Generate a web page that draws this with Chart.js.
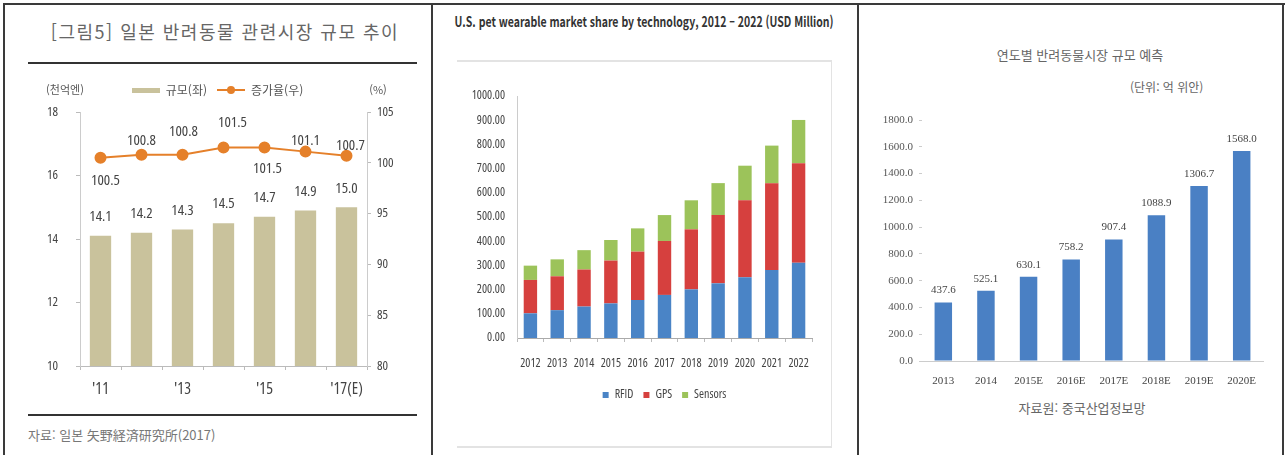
<!DOCTYPE html>
<html lang="ko">
<head>
<meta charset="utf-8">
<title>반려동물 시장 규모</title>
<script src="https://cdn.jsdelivr.net/npm/chart.js@4.4.1/dist/chart.umd.min.js"></script>
<style>
  html, body { margin: 0; padding: 0; background: #fff; }
  body { width: 1286px; height: 455px; position: relative; overflow: hidden; font-family: 'Noto Sans CJK KR', sans-serif; }
  .edge { position: absolute; background: #3a3a3a; }
  .rule { position: absolute; height: 2px; background: #333; }
  .soft { position: absolute; background: #e3e3e3; }
  .txt { position: absolute; white-space: nowrap; }
  .box { position: absolute; }
</style>
</head>
<body>
  <!-- panel frames -->
  <div class="edge" style="left:3px; top:3px; width:1282px; height:2px;"></div>
  <div class="edge" style="left:3px; top:3px; width:2px; height:452px;"></div>
  <div class="edge" style="left:431px; top:3px; width:2px; height:452px;"></div>
  <div class="edge" style="left:857px; top:3px; width:2px; height:452px;"></div>
  <div class="edge" style="left:1282px; top:3px; width:2px; height:452px;"></div>

  <!-- left panel -->
  <div class="txt" style="left:28px; width:394px; top:20px; line-height:22px; text-align:center; font-size:18px; letter-spacing:1.5px; color:#666;">[그림5] 일본 반려동물 관련시장 규모 추이</div>
  <div class="rule" style="left:28px; top:62px; width:389px;"></div>
  <div class="box" style="left:20px; top:70px; width:395px; height:330px;"><canvas id="japanChart"></canvas></div>
  <div class="rule" style="left:28px; top:414px; width:389px;"></div>
  <div class="txt" style="left:28px; top:427px; line-height:16px; font-size:13px; color:#777;">자료: 일본 矢野経済研究所(2017)</div>

  <!-- middle panel -->
  <div class="txt" style="left:344px; width:600px; top:12px; line-height:18px; text-align:center; font-size:14px; font-weight:bold; color:#333; transform:scaleX(0.75); transform-origin:50% 50%;">U.S. pet wearable market share by technology, 2012 – 2022 (USD Million)</div>
  <div class="soft" style="left:457px; top:60px; width:375px; height:2px;"></div>
  <div class="soft" style="left:831px; top:60px; width:1px; height:388px;"></div>
  <div class="box" style="left:440px; top:70px; width:400px; height:341px;"><canvas id="usChart"></canvas></div>
  <div class="soft" style="left:457px; top:446px; width:375px; height:2px;"></div>

  <!-- right panel -->
  <div class="txt" style="left:980px; width:200px; top:46px; line-height:18px; text-align:center; font-size:13px; color:#666;">연도별 반려동물시장 규모 예측</div>
  <div class="txt" style="left:1130px; top:79px; line-height:16px; font-size:12px; color:#666;">(단위: 억 위안)</div>
  <div class="box" style="left:865px; top:100px; width:415px; height:291px;"><canvas id="cnChart"></canvas></div>
  <div class="txt" style="left:982px; width:200px; top:399px; line-height:18px; text-align:center; font-size:13px; color:#666;">자료원: 중국산업정보망</div>

<script>
// "condensed" goes in the weight slot so the canvas font string reads "condensed 12px ..."
const NARROW = { family: "'Open Sans', sans-serif", weight: 'condensed' };
const SERIF = "'Liberation Serif', 'DejaVu Serif', serif";

// Japan pet market: size (1000억엔, left axis) and growth index (%, right axis)
const japanYears = ["'11", "'12", "'13", "'14", "'15", "'16", "'17(E)"];
const marketSize = [14.1, 14.2, 14.3, 14.5, 14.7, 14.9, 15.0];
const growthRate = [100.5, 100.8, 100.8, 101.5, 101.5, 101.1, 100.7];

// U.S. pet wearables by technology (USD million)
const techYears = ['2012', '2013', '2014', '2015', '2016', '2017', '2018', '2019', '2020', '2021', '2022'];
const rfidValues = [102, 115, 130, 143, 157, 178, 201, 226, 251, 281, 311];
const gpsValues = [138, 140, 153, 177, 200, 223, 248, 282, 318, 358, 411];
const sensorValues = [59, 70, 80, 85, 96, 107, 120, 132, 143, 156, 179];

// China pet market forecast (억 위안)
const cnYears = ['2013', '2014', '2015E', '2016E', '2017E', '2018E', '2019E', '2020E'];
const cnMarket = [437.6, 525.1, 630.1, 758.2, 907.4, 1088.9, 1306.7, 1568.0];

const SIZE_COLOR = '#c9c29c';
const RATE_COLOR = '#e5802a';

function narrow(size) {
    return { family: NARROW.family, weight: NARROW.weight, size: size };
}

function makeSwatch(w, h, paint) {
    const c = document.createElement('canvas');
    c.width = w;
    c.height = h;
    paint(c.getContext('2d'));
    return c;
}

const barSwatch = makeSwatch(28, 5, g => {
    g.fillStyle = SIZE_COLOR;
    g.fillRect(0, 0, 28, 5);
});
const lineSwatch = makeSwatch(28, 10, g => {
    g.strokeStyle = RATE_COLOR;
    g.lineWidth = 2;
    g.beginPath();
    g.moveTo(0, 5);
    g.lineTo(28, 5);
    g.stroke();
    g.fillStyle = RATE_COLOR;
    g.beginPath();
    g.arc(14, 5, 4, 0, Math.PI * 2);
    g.fill();
});
const legendSwatches = [barSwatch, lineSwatch];

// where each growth label sits relative to its point
const rateLabelShift = [[5, 23], [0, -14], [1, -23], [9, -25], [3, 21], [0, -11], [4, -10]];

const japanLabels = {
    id: 'japanLabels',
    afterDatasetsDraw(chart) {
        const ctx = chart.ctx;
        const area = chart.chartArea;
        ctx.save();
        ctx.textAlign = 'center';
        ctx.textBaseline = 'middle';
        ctx.fillStyle = '#444';
        ctx.font = "condensed 15px 'Open Sans', sans-serif";
        chart.getDatasetMeta(0).data.forEach((bar, i) => {
            ctx.fillText(marketSize[i].toFixed(1), bar.x, bar.y - 19);
        });
        chart.getDatasetMeta(1).data.forEach((pt, i) => {
            const [dx, dy] = rateLabelShift[i];
            ctx.fillText(growthRate[i].toFixed(1), pt.x + dx, pt.y + dy);
        });
        ctx.fillStyle = '#555';
        ctx.font = "11px 'Noto Sans CJK KR'";
        ctx.fillText('(천억엔)', area.left - 15, area.top - 22);
        ctx.fillText('(%)', area.right + 11, area.top - 22);
        ctx.restore();
    }
};

new Chart(document.getElementById('japanChart'), {
    data: {
        labels: japanYears,
        datasets: [{
            type: 'bar',
            label: '규모(좌)',
            data: marketSize,
            xAxisID: 'x',
            yAxisID: 'yL',
            backgroundColor: SIZE_COLOR,
            barPercentage: 0.52,
            categoryPercentage: 1,
            order: 2
        }, {
            type: 'line',
            label: '증가율(우)',
            data: growthRate,
            xAxisID: 'x',
            yAxisID: 'yR',
            borderColor: RATE_COLOR,
            borderWidth: 2,
            pointRadius: 5,
            pointBackgroundColor: RATE_COLOR,
            pointBorderColor: RATE_COLOR,
            tension: 0,
            order: 1
        }]
    },
    options: {
        responsive: true,
        maintainAspectRatio: false,
        animation: false,
        layout: { padding: { top: 4 } },
        plugins: {
            legend: {
                labels: {
                    usePointStyle: true,
                    pointStyleWidth: 28,
                    padding: 10,
                    color: '#555',
                    font: { family: 'Noto Sans CJK KR', size: 12 },
                    sort: (a, b) => a.datasetIndex - b.datasetIndex,
                    generateLabels: chart => {
                        const items = Chart.defaults.plugins.legend.labels.generateLabels(chart);
                        items.forEach(item => { item.pointStyle = legendSwatches[item.datasetIndex]; });
                        return items;
                    }
                }
            },
            tooltip: { enabled: false }
        },
        scales: {
            x: {
                offset: true,
                grid: { drawOnChartArea: false, tickLength: 4, color: '#bbb', offset: true },
                border: { color: '#bbb' },
                ticks: {
                    autoSkip: false,
                    maxRotation: 0,
                    padding: 10,
                    color: '#444',
                    font: narrow(16),
                    callback: (v, i) => (i % 2 === 0 ? japanYears[i] : '')
                },
                afterFit: s => { s.height = 34; }
            },
            // empty top strip, keeps some air between the legend and the plot
            gap: {
                type: 'category',
                position: 'top',
                grid: { display: false },
                ticks: { display: false },
                border: { display: false },
                afterFit: s => { s.height = 6; }
            },
            yL: {
                position: 'left',
                min: 10,
                max: 18,
                ticks: { stepSize: 2, padding: 18, color: '#444', font: narrow(13) },
                grid: { drawOnChartArea: false, tickLength: 4, color: '#bbb' },
                border: { color: '#ccc' },
                afterFit: s => { s.width = 60; }
            },
            yR: {
                position: 'right',
                min: 80,
                max: 105,
                ticks: { stepSize: 5, padding: 6, color: '#444', font: narrow(13) },
                grid: { drawOnChartArea: false, tickLength: 4, color: '#bbb' },
                border: { color: '#ccc' },
                afterFit: s => { s.width = 48; }
            }
        }
    },
    plugins: [japanLabels]
});

new Chart(document.getElementById('usChart'), {
    type: 'bar',
    data: {
        labels: techYears,
        datasets: [
            { label: 'RFID', data: rfidValues, backgroundColor: '#4a84c6' },
            { label: 'GPS', data: gpsValues, backgroundColor: '#d6403e' },
            { label: 'Sensors', data: sensorValues, backgroundColor: '#9cc35a' }
        ]
    },
    options: {
        responsive: true,
        maintainAspectRatio: false,
        animation: false,
        layout: { padding: { top: 26, right: 28 } },
        datasets: { bar: { barPercentage: 0.5, categoryPercentage: 1 } },
        plugins: {
            legend: {
                position: 'bottom',
                fullSize: false,
                labels: {
                    boxWidth: 6,
                    boxHeight: 6,
                    padding: 10,
                    color: '#444',
                    font: narrow(12)
                }
            },
            tooltip: { enabled: false }
        },
        scales: {
            x: {
                stacked: true,
                grid: { drawOnChartArea: false, tickLength: 4, color: '#bbb' },
                border: { color: '#aaa' },
                ticks: { autoSkip: false, maxRotation: 0, padding: 14, color: '#444', font: narrow(12) },
                afterFit: s => { s.height = 41; }
            },
            y: {
                stacked: true,
                min: 0,
                max: 1000,
                ticks: { stepSize: 100, padding: 4, color: '#444', font: narrow(12), callback: v => v.toFixed(2) },
                grid: { display: false },
                border: { color: '#ccc' },
                afterFit: s => { s.width = 77; }
            }
        }
    }
});

const cnLabels = {
    id: 'cnLabels',
    afterDatasetsDraw(chart) {
        const ctx = chart.ctx;
        ctx.save();
        ctx.textAlign = 'center';
        ctx.textBaseline = 'middle';
        ctx.fillStyle = '#444';
        ctx.font = '11px ' + SERIF;
        chart.getDatasetMeta(0).data.forEach((bar, i) => {
            ctx.fillText(cnMarket[i].toFixed(1), bar.x, bar.y - 12);
        });
        ctx.restore();
    }
};

new Chart(document.getElementById('cnChart'), {
    type: 'bar',
    data: {
        labels: cnYears,
        datasets: [{ label: '시장 규모', data: cnMarket, backgroundColor: '#4a80c4', barPercentage: 0.41, categoryPercentage: 1 }]
    },
    options: {
        responsive: true,
        maintainAspectRatio: false,
        animation: false,
        layout: { padding: { top: 20, right: 17 } },
        plugins: { legend: { display: false }, tooltip: { enabled: false } },
        scales: {
            x: {
                grid: { display: false },
                border: { color: '#ccc' },
                ticks: { autoSkip: false, maxRotation: 0, padding: 6, color: '#444', font: { family: SERIF, size: 11 } },
                afterFit: s => { s.height = 30; }
            },
            y: {
                min: 0,
                max: 1800,
                ticks: { stepSize: 200, padding: 6, color: '#555', font: { family: SERIF, size: 11 }, callback: v => v.toFixed(1) },
                grid: { drawOnChartArea: false, tickLength: 3, color: '#ccc' },
                border: { display: false },
                afterFit: s => { s.width = 57; }
            }
        }
    },
    plugins: [cnLabels]
});
</script>
</body>
</html>
